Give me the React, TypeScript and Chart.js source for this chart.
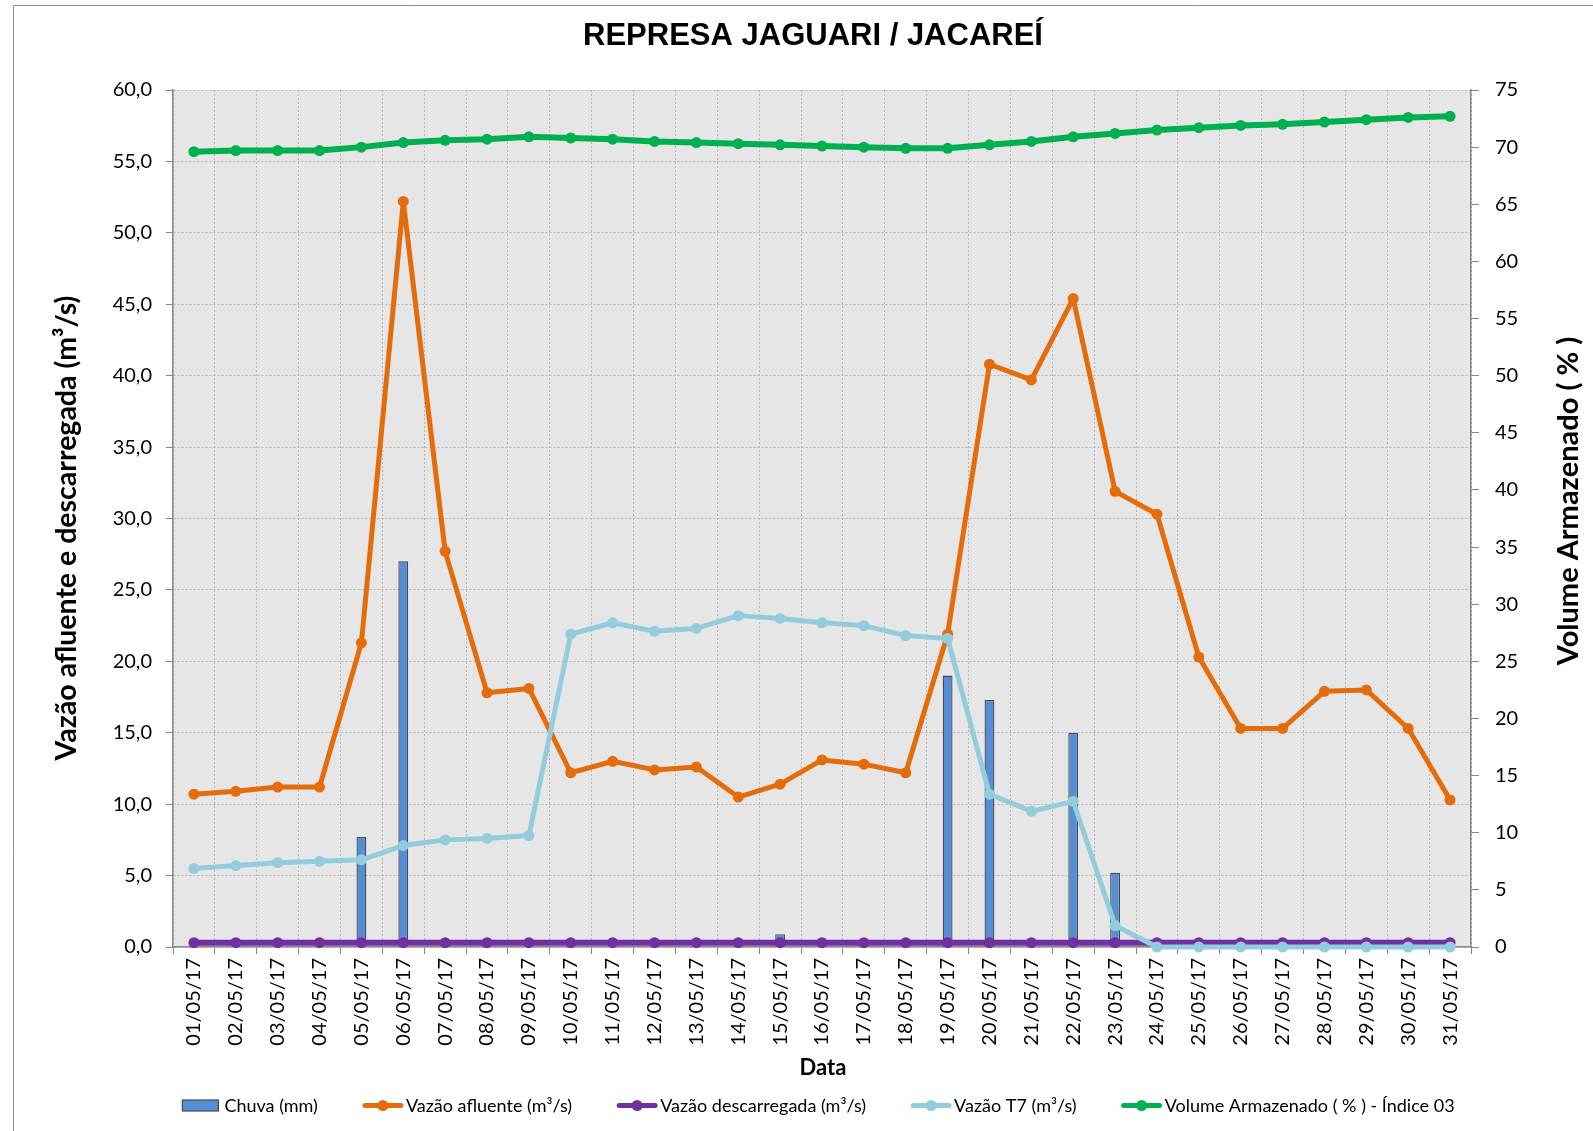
import React, { useEffect, useRef } from 'react';
import { Chart, registerables } from 'chart.js';

Chart.register(...registerables);

const dates = [
  '01/05/17', '02/05/17', '03/05/17', '04/05/17', '05/05/17', '06/05/17', '07/05/17', '08/05/17',
  '09/05/17', '10/05/17', '11/05/17', '12/05/17', '13/05/17', '14/05/17', '15/05/17', '16/05/17',
  '17/05/17', '18/05/17', '19/05/17', '20/05/17', '21/05/17', '22/05/17', '23/05/17', '24/05/17',
  '25/05/17', '26/05/17', '27/05/17', '28/05/17', '29/05/17', '30/05/17', '31/05/17',
];

const chuva = [0, 0, 0, 0, 7.7, 27.0, 0, 0, 0, 0, 0, 0, 0, 0, 0.9, 0, 0, 0, 19.0, 17.3, 0, 15.0, 5.2, 0, 0, 0, 0, 0, 0, 0, 0];
const vazaoAfluente = [10.7, 10.9, 11.2, 11.2, 21.3, 52.2, 27.7, 17.8, 18.1, 12.2, 13.0, 12.4, 12.6, 10.5, 11.4, 13.1, 12.8, 12.2, 21.9, 40.8, 39.7, 45.4, 31.9, 30.3, 20.3, 15.3, 15.3, 17.9, 18.0, 15.3, 10.3];
const vazaoDescarregada = [0.3, 0.3, 0.3, 0.3, 0.3, 0.3, 0.3, 0.3, 0.3, 0.3, 0.3, 0.3, 0.3, 0.3, 0.3, 0.3, 0.3, 0.3, 0.3, 0.3, 0.3, 0.3, 0.3, 0.3, 0.3, 0.3, 0.3, 0.3, 0.3, 0.3, 0.3];
const vazaoT7 = [5.5, 5.7, 5.9, 6.0, 6.1, 7.1, 7.5, 7.6, 7.8, 21.9, 22.7, 22.1, 22.3, 23.2, 23.0, 22.7, 22.5, 21.8, 21.6, 10.7, 9.5, 10.2, 1.5, 0, 0, 0, 0, 0, 0, 0, 0];
const volume = [69.6, 69.7, 69.7, 69.7, 70.0, 70.4, 70.6, 70.7, 70.9, 70.8, 70.7, 70.5, 70.4, 70.3, 70.2, 70.1, 70.0, 69.9, 69.9, 70.2, 70.5, 70.9, 71.2, 71.5, 71.7, 71.9, 72.0, 72.2, 72.4, 72.6, 72.7];

const leftTicksMax = 60;
const rightTicksMax = 75;

const COLORS = {
  bar: '#558ED5',
  barBorder: '#4a4a4a',
  orange: '#E46C0A',
  purple: '#7030A0',
  lightBlue: '#93CDDD',
  green: '#00B050',
  plotBg: '#E6E6E6',
  axis: '#868686',
  grid: '#B4B4B4',
};

const TITLE = 'REPRESA JAGUARI / JACAREÍ';
const Y_TITLE = 'Vazão afluente e descarregada (m³/s)';
const Y1_TITLE = 'Volume Armazenado ( % )';
const X_TITLE = 'Data';
const LEGEND = [
  { label: 'Chuva (mm)', color: COLORS.bar, type: 'box' },
  { label: 'Vazão afluente (m³/s)', color: COLORS.orange, type: 'line' },
  { label: 'Vazão descarregada (m³/s)', color: COLORS.purple, type: 'line' },
  { label: 'Vazão T7 (m³/s)', color: COLORS.lightBlue, type: 'line' },
  { label: 'Volume Armazenado ( % ) - Índice 03', color: COLORS.green, type: 'line' },
];

const FONT = 'Lato';

const decorPlugin = {
  id: 'decor',
  beforeDraw(chart: any) {
    const { ctx, chartArea, width, height } = chart;
    ctx.save();
    ctx.fillStyle = '#ffffff';
    ctx.fillRect(0, 0, width, height);
    ctx.fillStyle = COLORS.plotBg;
    ctx.fillRect(chartArea.left, chartArea.top, chartArea.right - chartArea.left, chartArea.bottom - chartArea.top);
    ctx.strokeStyle = '#8c8c8c';
    ctx.lineWidth = 1;
    ctx.beginPath();
    ctx.moveTo(13.5, height);
    ctx.lineTo(13.5, 5.5);
    ctx.lineTo(width, 5.5);
    ctx.stroke();
    ctx.restore();
  },
  afterDraw(chart: any) {
    const { ctx } = chart;
    ctx.save();
    ctx.fillStyle = '#000000';
    // main title
    ctx.font = 'bold 31px "Liberation Sans"';
    ctx.textAlign = 'center';
    ctx.textBaseline = 'alphabetic';
    ctx.fillText(TITLE, 813, 45);

    // left axis title
    ctx.font = `bold 28.5px ${FONT}`;
    ctx.save();
    ctx.translate(76, 528);
    ctx.rotate(-Math.PI / 2);
    ctx.fillText(Y_TITLE, 0, 0);
    ctx.restore();

    // right axis title
    ctx.font = `bold 29px ${FONT}`;
    ctx.save();
    ctx.translate(1578, 501);
    ctx.rotate(-Math.PI / 2);
    ctx.fillText(Y1_TITLE, 0, 0);
    ctx.restore();

    // x title
    ctx.font = `bold 22px ${FONT}`;
    ctx.fillText(X_TITLE, 823, 1075);

    // legend
    ctx.font = `18px ${FONT}`;
    ctx.textAlign = 'left';
    const symW = 40;
    const gap = 3;
    const itemGap = 45;
    const widths = LEGEND.map((it) => symW + gap + ctx.measureText(it.label).width);
    const total = widths.reduce((a, b) => a + b, 0) + itemGap * (LEGEND.length - 1);
    let x = 818 - total / 2;
    const cy = 1105.5;
    LEGEND.forEach((it, i) => {
      if (it.type === 'box') {
        ctx.fillStyle = it.color;
        ctx.fillRect(x + 1, cy - 5.5, 36, 11);
        ctx.strokeStyle = COLORS.barBorder;
        ctx.lineWidth = 1.2;
        ctx.strokeRect(x + 1, cy - 5.5, 36, 11);
      } else {
        ctx.strokeStyle = it.color;
        ctx.lineWidth = 5;
        ctx.lineCap = 'round';
        ctx.beginPath();
        ctx.moveTo(x + 2, cy);
        ctx.lineTo(x + symW - 2, cy);
        ctx.stroke();
        ctx.fillStyle = it.color;
        ctx.beginPath();
        ctx.arc(x + symW / 2, cy, 5.5, 0, Math.PI * 2);
        ctx.fill();
      }
      ctx.fillStyle = '#000000';
      ctx.fillText(it.label, x + symW + gap, cy + 6.5);
      x += widths[i] + itemGap;
    });
    ctx.restore();
  },
};

export default function App() {
  const canvasRef = useRef<HTMLCanvasElement | null>(null);

  useEffect(() => {
    const canvas = canvasRef.current;
    if (!canvas) return;

    const lineDs = (label: string, data: number[], color: string, width: number, radius: number, order: number, axis: string) => ({
      type: 'line' as const,
      label,
      data,
      borderColor: color,
      backgroundColor: color,
      borderWidth: width,
      borderJoinStyle: 'round',
      borderCapStyle: 'round',
      pointRadius: radius,
      pointBorderWidth: 0,
      pointBackgroundColor: color,
      pointHoverRadius: radius,
      tension: 0,
      yAxisID: axis,
      order,
      clip: false as any,
    });

    const chart = new Chart(canvas, {
      data: {
        labels: dates,
        datasets: [
          {
            type: 'bar',
            label: 'Chuva (mm)',
            data: chuva,
            backgroundColor: COLORS.bar,
            borderColor: COLORS.barBorder,
            borderWidth: (c: any) => (c.raw > 0 ? 1.3 : 0),
            barPercentage: 0.235,
            categoryPercentage: 1,
            yAxisID: 'y',
            order: 5,
          } as any,
          lineDs('Vazão afluente (m³/s)', vazaoAfluente, COLORS.orange, 5, 5.5, 4, 'y'),
          lineDs('Vazão descarregada (m³/s)', vazaoDescarregada, COLORS.purple, 6, 5.5, 3, 'y'),
          lineDs('Vazão T7 (m³/s)', vazaoT7, COLORS.lightBlue, 5, 5.5, 2, 'y'),
          lineDs('Volume Armazenado ( % ) - Índice 03', volume, COLORS.green, 6, 5.5, 1, 'y1'),
        ],
      },
      options: {
        responsive: false,
        animation: false,
        events: [],
        layout: { padding: { top: 90, left: 0, right: 0, bottom: 0 } },
        plugins: {
          legend: { display: false },
          title: { display: false },
          tooltip: { enabled: false },
        },
        scales: {
          x: {
            type: 'category',
            offset: true,
            grid: {
              offset: true,
              color: COLORS.grid,
              lineWidth: 1,
              tickLength: 7,
              tickColor: COLORS.axis,
              tickWidth: 1,
              tickBorderDash: [],
            },
            border: { color: COLORS.axis, width: 1.5, dash: [2, 2] },
            ticks: {
              autoSkip: false,
              maxRotation: 90,
              minRotation: 90,
              padding: 4,
              color: '#000000',
              font: { family: FONT, size: 20 },
            },
            afterFit: (s: any) => {
              s.height = 184;
            },
          },
          y: {
            type: 'linear',
            position: 'left',
            min: 0,
            max: leftTicksMax,
            grid: {
              color: COLORS.grid,
              lineWidth: 1,
              tickLength: 7,
              tickColor: COLORS.axis,
              tickWidth: 1,
              tickBorderDash: [],
            },
            border: { color: COLORS.axis, width: 1.5, dash: [2, 2] },
            ticks: {
              stepSize: 5,
              padding: 14,
              color: '#000000',
              font: { family: FONT, size: 20 },
              callback: (v: any) => Number(v).toFixed(1).replace('.', ','),
            },
            afterFit: (s: any) => {
              s.width = 173;
            },
          },
          y1: {
            type: 'linear',
            position: 'right',
            min: 0,
            max: rightTicksMax,
            grid: {
              drawOnChartArea: false,
              tickLength: 8,
              tickColor: COLORS.axis,
              tickWidth: 1,
              tickBorderDash: [],
            },
            border: { color: COLORS.axis, width: 1.5 },
            ticks: {
              stepSize: 5,
              padding: 16,
              color: '#000000',
              font: { family: FONT, size: 20 },
              callback: (v: any) => String(v),
            },
            afterFit: (s: any) => {
              s.width = 122;
            },
          },
        },
      } as any,
      plugins: [decorPlugin],
    });

    return () => {
      chart.destroy();
    };
  }, []);

  return (
    <div style={{ position: 'fixed', left: 0, top: 0, width: 1593, height: 1131, background: '#fff' }}>
      <canvas ref={canvasRef} width={1593} height={1131} style={{ display: 'block', width: 1593, height: 1131 }} />
    </div>
  );
}
